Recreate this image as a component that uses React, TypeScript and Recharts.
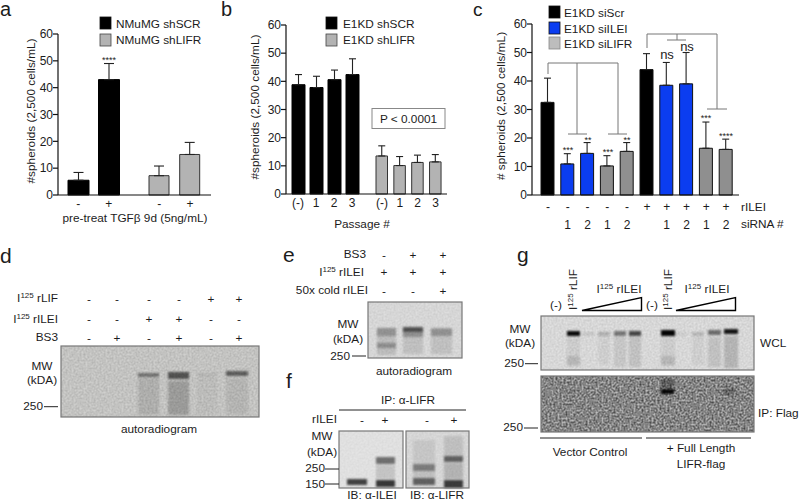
import { BarChart, Bar, XAxis, YAxis, ErrorBar, Cell } from 'recharts';

const FONT = '"Liberation Sans", Arial, sans-serif';
const INK = '#1c1c1c';
const GREY_A = '#b3b3b3';
const GREY_C = '#8f8f8f';
const BLUE = '#0b3df0';

const yTicks = [0, 10, 20, 30, 40, 50, 60];

// panel a
const aScrLabels = ['-', '+'];
const aScrValues = [5.5, 43];
const aScrErrors = [2.9, 6];
const aLifrLabels = ['-', '+'];
const aLifrValues = [7.2, 15.1];
const aLifrErrors = [3.6, 4.5];

// panel b
const bScrLabels = ['(-)', '1', '2', '3'];
const bScrValues = [38.8, 37.8, 40.6, 42.4];
const bScrErrors = [3.6, 4, 3.4, 5.6];
const bLifrLabels = ['(-)', '1', '2', '3'];
const bLifrValues = [13.5, 10.1, 11.2, 11.4];
const bLifrErrors = [3.6, 3.2, 2.6, 2.6];

// panel c
const cRilei = ['-', '-', '-', '-', '-', '+', '+', '+', '+', '+'];
const cSirna = ['', '1', '2', '1', '2', '', '1', '2', '1', '2'];
const cValues = [32.5, 10.9, 14.6, 10.2, 15.3, 44, 38.5, 39, 16.4, 16];
const cErrors = [8.5, 3.6, 3.8, 3.6, 3.1, 5.6, 8, 11, 9.2, 3.6];
const cColors = ['#000', BLUE, BLUE, GREY_C, GREY_C, '#000', BLUE, BLUE, GREY_C, GREY_C];

const rows = (labels: string[], values: number[], errors: number[]) =>
  labels.map((label, i) => ({ label, i, value: values[i], err: [0, errors[i]] }));

const axisLine = { stroke: '#111', strokeWidth: 1.2 };
const tickStyle = { fill: INK, fontSize: 12, fontFamily: FONT };

function Group({ left, top, width, height, marginTop, data, fill, stroke, barSize, capWidth, padL, padR, showY }: any) {
  return (
    <div style={{ position: 'absolute', left, top }}>
      <BarChart
        width={width}
        height={height}
        data={data}
        margin={{ top: marginTop, right: 0, bottom: 0, left: 0 }}
      >
        <XAxis
          dataKey="label"
          height={25}
          axisLine={axisLine}
          tickLine={false}
          tick={tickStyle}
          tickSize={0}
          tickMargin={4.5}
          interval={0}
          padding={{ left: padL, right: padR }}
        />
        <YAxis
          hide={!showY}
          width={showY ? showY : 0}
          domain={[0, 60]}
          ticks={yTicks}
          interval={0}
          tickSize={5}
          tickMargin={0}
          axisLine={axisLine}
          tickLine={axisLine}
          tick={tickStyle}
        />
        <Bar dataKey="value" fill={fill} stroke={stroke} strokeWidth={1} barSize={barSize} isAnimationActive={false}>
          <ErrorBar dataKey="err" direction="y" width={capWidth} stroke="#222" strokeWidth={1.1} isAnimationActive={false} />
        </Bar>
      </BarChart>
    </div>
  );
}

function PanelC() {
  const data = rows(cRilei, cValues, cErrors);
  const tick = ({ x, y, payload }: any) => (
    <g fontFamily={FONT} fontSize={12} fill={INK} textAnchor="middle">
      <text x={x} y={y + 16}>{payload.value}</text>
      <text x={x} y={y + 34}>{cSirna[payload.index]}</text>
    </g>
  );
  return (
    <div style={{ position: 'absolute', left: 474, top: 10 }}>
      <BarChart width={265} height={230} data={data} margin={{ top: 14, right: 0, bottom: 0, left: 0 }}>
        <XAxis
          dataKey="label"
          height={45}
          axisLine={axisLine}
          tickLine={false}
          tickSize={0}
          tickMargin={0}
          tick={tick}
          interval={0}
          padding={{ left: 6, right: 3 }}
        />
        <YAxis
          width={58}
          domain={[0, 60]}
          ticks={yTicks}
          interval={0}
          tickSize={5}
          tickMargin={0}
          axisLine={axisLine}
          tickLine={axisLine}
          tick={tickStyle}
        />
        <Bar dataKey="value" stroke="#111" strokeWidth={1} barSize={13} isAnimationActive={false}>
          {cColors.map((c, i) => <Cell key={i} fill={c} />)}
          <ErrorBar dataKey="err" direction="y" width={3.5} stroke="#222" strokeWidth={1.1} isAnimationActive={false} />
        </Bar>
      </BarChart>
    </div>
  );
}

function T({ x, y, a = 'start', s = 11.8, rot, children, fill = INK }: any) {
  return (
    <text
      x={x}
      y={y}
      textAnchor={a}
      fontSize={s}
      fill={fill}
      fontFamily={FONT}
      transform={rot ? `rotate(${rot} ${x} ${y})` : undefined}
    >
      {children}
    </text>
  );
}

const Iso = ({ name }: { name: string }) => (
  <>
    I<tspan fontSize={8} dy={-4}>125</tspan>
    <tspan dy={4}> {name}</tspan>
  </>
);

function Swatch({ x, y, w = 11, h = 12, fill, stroke = '#111' }: any) {
  return <rect x={x} y={y} width={w} height={h} fill={fill} stroke={stroke} strokeWidth={0.8} />;
}

function Path({ d, stroke = '#777', w = 1 }: any) {
  return <path d={d} fill="none" stroke={stroke} strokeWidth={w} />;
}

function Gel({ x, y, w, h, bg, grain = 0.2, bands }: any) {
  return (
    <g>
      <rect x={x} y={y} width={w} height={h} fill={bg} />
      <rect x={x} y={y} width={w} height={h} fill="#000" opacity={grain} filter="url(#grain)" />
      {bands.map((b: number[], i: number) => (
        <rect
          key={i}
          x={b[0]}
          y={b[1]}
          width={b[2]}
          height={b[3]}
          fill="#000"
          opacity={b[4]}
          filter="url(#soft)"
        />
      ))}
      <rect x={x} y={y} width={w} height={h} fill="none" stroke="#777" strokeWidth={1.2} />
    </g>
  );
}

const gelD = [
  [138, 378, 21, 37, 0.1], [168, 381, 21, 34, 0.2], [197, 376, 20, 38, 0.03], [226, 378, 22, 36, 0.07],
  [138, 373, 21, 4, 0.42], [168, 372, 21, 7, 0.58], [197, 373, 20, 3, 0.08], [226, 371, 22, 5, 0.52],
];
const gelE = [
  [377, 328, 19, 27, 0.12], [377, 328, 19, 8, 0.22], [377, 343, 19, 5, 0.25],
  [403, 330, 20, 24, 0.1], [403, 327, 20, 5, 0.62], [403, 332, 20, 5, 0.25],
  [431, 329, 21, 25, 0.1], [431, 328, 21, 8, 0.24],
];
const gelF1 = [
  [347, 479, 20, 6, 0.7], [376, 457, 19, 7, 0.5], [376, 465, 19, 14, 0.12], [376, 480, 19, 7, 0.75],
];
const gelF2 = [
  [413, 440, 22, 24, 0.07], [413, 464, 22, 7, 0.42], [413, 471, 22, 7, 0.1], [413, 478, 22, 7, 0.55],
  [444, 436, 19, 20, 0.1], [444, 456, 19, 6, 0.55], [444, 463, 19, 16, 0.16], [444, 480, 19, 8, 0.72],
];
const gelG1 = [
  [567, 331, 13, 5, 0.95], [567, 337, 13, 30, 0.05], [567, 356, 13, 9, 0.1],
  [583, 332, 11, 4, 0.08], [598, 332, 12, 4, 0.2], [598, 337, 12, 28, 0.04],
  [614, 331, 12, 5, 0.45], [614, 337, 12, 30, 0.08], [629, 331, 12, 5, 0.68], [629, 337, 12, 30, 0.1],
  [661, 330, 14, 6, 0.98], [661, 337, 14, 30, 0.05], [661, 356, 14, 9, 0.1],
  [676, 332, 11, 4, 0.06], [692, 332, 12, 4, 0.16], [692, 337, 12, 28, 0.04],
  [708, 330, 13, 5, 0.5], [708, 337, 13, 30, 0.1], [724, 329, 14, 5, 0.9], [724, 336, 14, 32, 0.16],
];
const gelG2 = [
  [661, 379, 13, 9, 0.3], [661, 389, 13, 5, 0.95], [723, 388, 12, 7, 0.22], [567, 391, 6, 4, 0.1],
];

// sign columns of the blot panels
const dCols = [89, 117, 149, 179, 211, 239];
const dRows = [
  { y: 303, signs: ['-', '-', '-', '-', '+', '+'] },
  { y: 323, signs: ['-', '-', '+', '+', '-', '-'] },
  { y: 342, signs: ['-', '+', '-', '+', '-', '+'] },
];
const eCols = [384, 413, 443];
const eRows = [
  { y: 259, signs: ['-', '+', '+'] },
  { y: 276, signs: ['+', '+', '+'] },
  { y: 295, signs: ['-', '-', '+'] },
];
const fCols = [362, 385, 427, 454];
const fSigns = ['-', '+', '-', '+'];

function Overlay() {
  return (
    <svg width={800} height={502} style={{ position: 'absolute', left: 0, top: 0, pointerEvents: 'none' }}>
      <defs>
        <filter id="grain" x="0" y="0" width="100%" height="100%" colorInterpolationFilters="sRGB">
          <feTurbulence type="fractalNoise" baseFrequency="0.5" numOctaves={2} seed={4} />
          <feColorMatrix values="0 0 0 0 0  0 0 0 0 0  0 0 0 0 0  1.6 0 0 0 -0.35" />
          <feGaussianBlur stdDeviation="0.35" />
        </filter>
        <filter id="soft" x="-30%" y="-150%" width="160%" height="400%">
          <feGaussianBlur stdDeviation="1.3" />
        </filter>
      </defs>

      {/* panel letters */}
      <T x={0} y={16} s={20}>a</T>
      <T x={221} y={16} s={20}>b</T>
      <T x={473} y={16} s={19}>c</T>
      <T x={0} y={263} s={21}>d</T>
      <T x={283} y={262} s={21}>e</T>
      <T x={286} y={388} s={21}>f</T>
      <T x={517} y={262} s={21}>g</T>

      {/* a */}
      <Swatch x={100} y={17} fill="#000" />
      <Swatch x={100} y={34} fill={GREY_A} stroke="#444" />
      <T x={116} y={28}>NMuMG shSCR</T>
      <T x={116} y={44}>NMuMG shLIFR</T>
      <T x={35} y={111} a="middle" rot={-90}>#spheroids (2,500 cells/mL)</T>
      <T x={109} y={63} a="middle" s={9}>****</T>
      <T x={135} y={222} a="middle">pre-treat TGFβ 9d (5ng/mL)</T>

      {/* b */}
      <Swatch x={326} y={17} fill="#000" />
      <Swatch x={326} y={34} fill={GREY_A} stroke="#444" />
      <T x={343} y={28}>E1KD shSCR</T>
      <T x={343} y={44}>E1KD shLIFR</T>
      <T x={259} y={107} a="middle" rot={-90}>#spheroids (2,500 cells/mL)</T>
      <rect x={372} y={108.5} width={73} height={20} fill="#fff" stroke="#888" />
      <T x={408.5} y={123} a="middle">P &lt; 0.0001</T>
      <T x={362} y={228} a="middle">Passage #</T>

      {/* c */}
      <Swatch x={549} y={6} fill="#000" />
      <Swatch x={549} y={22} fill={BLUE} />
      <Swatch x={549} y={37} fill="#bdbdbd" stroke="#888" />
      <T x={564} y={17}>E1KD siScr</T>
      <T x={564} y={33}>E1KD siILEI</T>
      <T x={564} y={48}>E1KD siLIFR</T>
      <T x={505} y={106} a="middle" rot={-90}># spheroids (2,500 cells/mL)</T>
      <T x={741} y={211}>rILEI</T>
      <T x={741} y={228}>siRNA #</T>
      <T x={667} y={59} a="middle" s={13}>ns</T>
      <T x={687} y={51} a="middle" s={13}>ns</T>
      <T x={568} y={153} a="middle" s={9}>***</T>
      <T x={588} y={143} a="middle" s={9}>**</T>
      <T x={608} y={155} a="middle" s={9}>***</T>
      <T x={627} y={143} a="middle" s={9}>**</T>
      <T x={706} y={121} a="middle" s={9}>***</T>
      <T x={726} y={139} a="middle" s={9}>****</T>
      <Path d="M548 74V63H618V134M577 63V134M568 134H587M608 134H627" />
      <Path d="M647 48V34H717V109M677 34V40M667 40H686M707 109H727" />

      {/* d */}
      <Gel x={61} y={346} w={198} h={71} bg="#d0d0ce" grain={0.14} bands={gelD} />
      <T x={58} y={302} a="end"><Iso name="rLIF" /></T>
      <T x={58} y={323} a="end"><Iso name="rILEI" /></T>
      <T x={58} y={341} a="end">BS3</T>
      {dRows.map((r) => r.signs.map((s, i) => (
        <T key={`${r.y}-${i}`} x={dCols[i]} y={r.y} a="middle">{s}</T>
      )))}
      <T x={42} y={370} a="middle">MW</T>
      <T x={42} y={384} a="middle">(kDA)</T>
      <T x={43} y={410} a="end">250</T>
      <Path d="M44 406.7H58" stroke="#222" />
      <T x={159} y={433} a="middle">autoradiogram</T>

      {/* e */}
      <Gel x={368} y={302} w={94} h={56} bg="#dedede" grain={0.08} bands={gelE} />
      <T x={366} y={258} a="end">BS3</T>
      <T x={364} y={276} a="end"><Iso name="rILEI" /></T>
      <T x={368} y={294} a="end">50x cold rILEI</T>
      {eRows.map((r) => r.signs.map((s, i) => (
        <T key={`${r.y}-${i}`} x={eCols[i]} y={r.y} a="middle">{s}</T>
      )))}
      <T x={348} y={328} a="middle">MW</T>
      <T x={348} y={343} a="middle">(kDA)</T>
      <T x={350} y={360} a="end">250</T>
      <Path d="M352 356H366" stroke="#222" />
      <T x={414} y={375} a="middle">autoradiogram</T>

      {/* f */}
      <T x={408} y={404} a="middle">IP: α-LIFR</T>
      <Path d="M339 410H466" stroke="#222" />
      <T x={337} y={423} a="end">rILEI</T>
      {fCols.map((x, i) => <T key={x} x={x} y={424} a="middle">{fSigns[i]}</T>)}
      <Gel x={339} y={431} w={64} h={57} bg="#e4e4e4" grain={0.04} bands={gelF1} />
      <Gel x={406} y={431} w={63} h={57} bg="#dcdcdc" grain={0.06} bands={gelF2} />
      <T x={322} y={440} a="middle">MW</T>
      <T x={322} y={456} a="middle">(kDA)</T>
      <T x={325} y={472} a="end">250</T>
      <Path d="M325 469H339" stroke="#222" />
      <T x={325} y={488} a="end">150</T>
      <Path d="M325 484H339" stroke="#222" />
      <T x={372} y={499} a="middle">IB: α-ILEI</T>
      <T x={437} y={499} a="middle">IB: α-LIFR</T>

      {/* g */}
      <T x={556} y={309} a="middle">(-)</T>
      <T x={652} y={309} a="middle">(-)</T>
      <T x={577} y={310} rot={-90}><Iso name="rLIF" /></T>
      <T x={672} y={310} rot={-90}><Iso name="rLIF" /></T>
      <T x={619} y={293} a="middle"><Iso name="rILEI" /></T>
      <T x={707} y={293} a="middle"><Iso name="rILEI" /></T>
      <path d="M582 310.5L641.5 297.5V310.5Z" fill="#fff" stroke="#000" strokeWidth={1.4} />
      <path d="M676 310.5L735.5 297.5V310.5Z" fill="#fff" stroke="#000" strokeWidth={1.4} />
      <Gel x={541} y={316} w={213} h={54} bg="#e2e2e2" grain={0.1} bands={gelG1} />
      <Gel x={541} y={376} w={213} h={56} bg="#bcbcbc" grain={0.65} bands={gelG2} />
      <T x={520} y={333} a="middle">MW</T>
      <T x={520} y={347} a="middle">(kDA)</T>
      <T x={524} y={367} a="end">250</T>
      <Path d="M525 363.7H538" stroke="#222" />
      <T x={523} y={431} a="end">250</T>
      <Path d="M524 428H538" stroke="#222" />
      <T x={760} y={347}>WCL</T>
      <T x={758} y={417}>IP: Flag</T>
      <Path d="M540 438H642M646 438H751" stroke="#222" />
      <T x={590} y={456} a="middle">Vector Control</T>
      <T x={701} y={452} a="middle">+ Full Length</T>
      <T x={701} y={468} a="middle">LIFR-flag</T>
    </svg>
  );
}

export default function App() {
  return (
    <div style={{ position: 'absolute', left: 0, top: 0, width: 800, height: 502, overflow: 'hidden', background: '#fff', fontFamily: FONT }}>
      <Group left={0} top={20} width={124} height={200} marginTop={14} showY={58}
        data={rows(aScrLabels, aScrValues, aScrErrors)} fill="#000" stroke="#000" barSize={21} capWidth={5} padL={5} padR={0} />
      <Group left={124} top={20} width={87} height={200} marginTop={14}
        data={rows(aLifrLabels, aLifrValues, aLifrErrors)} fill={GREY_A} stroke="#333" barSize={20} capWidth={5} padL={20} padR={5.6} />
      <Group left={228} top={11} width={133} height={208} marginTop={14} showY={58}
        data={rows(bScrLabels, bScrValues, bScrErrors)} fill="#000" stroke="#000" barSize={13} capWidth={3.5} padL={3} padR={0} />
      <Group left={361} top={11} width={86} height={208} marginTop={14}
        data={rows(bLifrLabels, bLifrValues, bLifrErrors)} fill={GREY_A} stroke="#333" barSize={11.5} capWidth={3.5} padL={12} padR={2.6} />
      <PanelC />
      <Overlay />
    </div>
  );
}
